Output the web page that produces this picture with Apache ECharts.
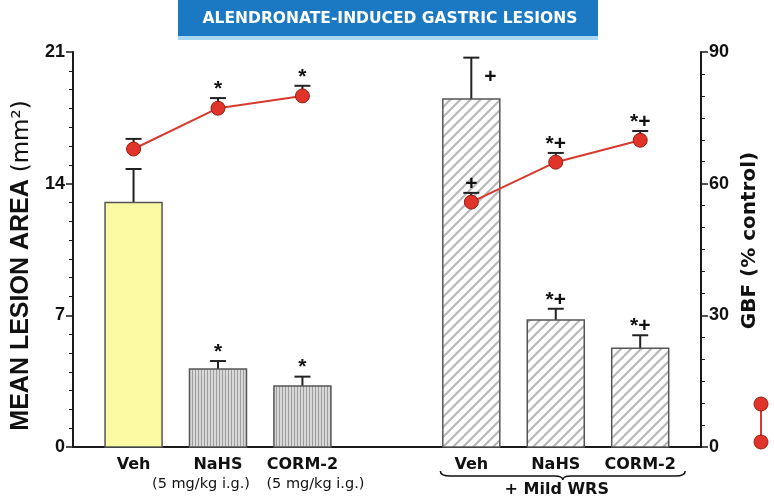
<!DOCTYPE html>
<html><head><meta charset="utf-8">
<script src="https://cdn.jsdelivr.net/npm/echarts@6/dist/echarts.min.js"></script>
<style>html,body{margin:0;padding:0;background:#fff}#c{width:774px;height:498px}</style>
</head><body><div id="c"></div><script>
// ---- data ----
const categories = ['Veh', 'NaHS', 'CORM-2', 'Veh', 'NaHS', 'CORM-2'];
const subLabels = ['', '(5 mg/kg i.g.)', '(5 mg/kg i.g.)', '', '', ''];
const positions = [1, 2, 3, 5, 6, 7];
const lesionArea = [13.0, 4.15, 3.24, 18.5, 6.75, 5.25];
const lesionErr = [1.78, 0.42, 0.50, 2.2, 0.60, 0.69];
const gbf = [67.9, 77.2, 80.0, 55.8, 64.9, 69.9];
const gbfErr = [2.3, 2.3, 2.3, 2.1, 2.1, 2.1];
const barMarks = ['', '*', '*', '+', '*+', '*+'];
const gbfMarks = ['', '*', '*', '+', '*+', '*+'];
const leftTicks = [0, 7, 14, 21];
const rightTicks = [0, 30, 60, 90];
const groupLabel = '+ Mild WRS';
const titleText = 'ALENDRONATE-INDUCED GASTRIC LESIONS';

// ---- styles ----
const BAR_W = 0.675;
function makePattern(kind) {
  const c = document.createElement('canvas');
  const g = c.getContext('2d');
  if (kind === 'v') {
    c.width = 3; c.height = 4;
    g.fillStyle = '#d8d8d8'; g.fillRect(0, 0, 3, 4);
    g.fillStyle = '#9e9e9e'; g.fillRect(0, 0, 1, 4);
  } else {
    c.width = 10; c.height = 10;
    g.fillStyle = '#ffffff'; g.fillRect(0, 0, 10, 10);
    g.strokeStyle = '#b8b8b8'; g.lineWidth = 2.2;
    g.beginPath();
    g.moveTo(-2, 12); g.lineTo(12, -2);
    g.moveTo(-2, 2); g.lineTo(2, -2);
    g.moveTo(8, 12); g.lineTo(12, 8);
    g.stroke();
  }
  return { type: 'pattern', image: c, repeat: 'repeat' };
}
const vPat = makePattern('v');
const hPat = makePattern('h');
function barFill(i) { return i === 0 ? '#fbfaa2' : (i < 3 ? vPat : hPat); }

const chart = echarts.init(document.getElementById('c'));
const markFont = 'bold 21px "Liberation Sans", Arial, sans-serif';
const DV = '"DejaVu Sans", sans-serif';
const LS = '"Liberation Sans", Arial, sans-serif';

function lineData(from, to) {
  const d = [];
  for (let i = from; i < to; i++) d.push([positions[i], gbf[i]]);
  return d;
}
const lineSeriesBase = {
  type: 'line', xAxisIndex: 0, yAxisIndex: 1, z: 5,
  symbol: 'circle', symbolSize: 14,
  itemStyle: { color: '#e0342a', borderColor: '#9a1c12', borderWidth: 1 },
  lineStyle: { color: '#d8392c', width: 2 },
  emphasis: { disabled: true }, silent: true
};

const option = {
  animation: false,
  grid: { left: 73, right: 73, top: 52, bottom: 51 },
  graphic: [
    { type: 'rect', shape: { x: 178, y: 0, width: 420, height: 36 }, style: { fill: '#1b78c2' } },
    { type: 'rect', shape: { x: 178, y: 36, width: 420, height: 4 }, style: { fill: '#a8d8f2' } },
    { type: 'text', x: 390, y: 19, style: { text: titleText, fill: '#ffffff', font: 'bold 15.5px "DejaVu Sans", sans-serif', align: 'center', verticalAlign: 'middle' } },
    { type: 'line', shape: { x1: 761, y1: 404, x2: 761, y2: 442 }, style: { stroke: '#d8392c', lineWidth: 2 } },
    { type: 'circle', shape: { cx: 761, cy: 404, r: 7 }, style: { fill: '#e0342a', stroke: '#9a1c12', lineWidth: 1 } },
    { type: 'circle', shape: { cx: 761, cy: 442, r: 7 }, style: { fill: '#e0342a', stroke: '#9a1c12', lineWidth: 1 } }
  ],
  xAxis: {
    type: 'value', min: 0.283, max: 7.72,
    axisLine: { show: true, lineStyle: { color: '#1a1a1a', width: 2 } },
    axisTick: { show: false },
    splitLine: { show: false },
    axisLabel: {
      customValues: positions,
      margin: 8,
      formatter: function (v) {
        const i = positions.indexOf(v);
        if (i < 0) return '';
        let s = '{m|' + categories[i] + '}';
        if (subLabels[i]) s += '\n{' + (i === 1 ? 's1' : 's2') + '|' + subLabels[i] + '}';
        return s;
      },
      rich: {
        m: { fontFamily: DV, fontWeight: 'bold', fontSize: 16, color: '#111', lineHeight: 20 },
        s1: { fontFamily: DV, fontSize: 14.5, color: '#111', lineHeight: 18, padding: [0, 34, 0, 0] },
        s2: { fontFamily: DV, fontSize: 14.5, color: '#111', lineHeight: 18, padding: [0, 0, 0, 26] }
      }
    }
  },
  yAxis: [
    {
      type: 'value', min: leftTicks[0], max: leftTicks[leftTicks.length - 1], interval: 7, position: 'left',
      axisLine: { show: true, lineStyle: { color: '#1a1a1a', width: 2 } },
      axisTick: { show: true, length: 7, lineStyle: { color: '#1a1a1a', width: 1.5 } },
      minorTick: { show: true, splitNumber: 7, length: 4, lineStyle: { color: '#1a1a1a', width: 1 } },
      splitLine: { show: false },
      axisLabel: { margin: 8, color: '#111', fontFamily: LS, fontWeight: 'bold', fontSize: 18 },
      name: '{b|MEAN LESION AREA }{p|(mm²)}',
      nameLocation: 'middle', nameRotate: 90, nameGap: 38,
      nameTextStyle: {
        padding: [0, 32, 0, 0],
        rich: {
          b: { fontFamily: LS, fontWeight: 'bold', fontSize: 25, color: '#111' },
          p: { fontFamily: DV, fontSize: 23, color: '#111' }
        }
      }
    },
    {
      type: 'value', min: rightTicks[0], max: rightTicks[rightTicks.length - 1], interval: 30, position: 'right',
      axisLine: { show: true, lineStyle: { color: '#1a1a1a', width: 2 } },
      axisTick: { show: true, length: 7, lineStyle: { color: '#1a1a1a', width: 1.5 } },
      minorTick: { show: true, splitNumber: 6, length: 4, lineStyle: { color: '#1a1a1a', width: 1 } },
      splitLine: { show: false },
      axisLabel: { margin: 8, color: '#111', fontFamily: LS, fontWeight: 'bold', fontSize: 18 },
      name: 'GBF (% control)',
      nameLocation: 'middle', nameRotate: 90, nameGap: 34,
      nameTextStyle: { padding: [0, 0, 0, 18], color: '#111', fontFamily: DV, fontWeight: 'bold', fontSize: 20 }
    }
  ],
  series: [
    {
      type: 'custom', xAxisIndex: 0, yAxisIndex: 0, z: 2, silent: true, clip: false,
      data: positions.map((p, i) => [p, lesionArea[i], lesionErr[i], i]),
      renderItem: function (params, api) {
        const x = api.value(0), y = api.value(1), e = api.value(2), i = api.value(3);
        const base = api.coord([x, 0]);
        const top = api.coord([x, y]);
        const et = api.coord([x, y + e]);
        const w = api.size([BAR_W, 0])[0];
        const children = [
          { type: 'line', shape: { x1: top[0], y1: top[1], x2: et[0], y2: et[1] }, style: { stroke: '#222', lineWidth: 2 } },
          { type: 'line', shape: { x1: et[0] - 8, y1: et[1], x2: et[0] + 8, y2: et[1] }, style: { stroke: '#222', lineWidth: 2 } },
          { type: 'rect', shape: { x: base[0] - w / 2, y: top[1], width: w, height: base[1] - top[1] }, style: { fill: barFill(i), stroke: '#555', lineWidth: 1.5 } }
        ];
        if (barMarks[i]) {
          const beside = (i === 3);
          children.push({
            type: 'text',
            x: beside ? et[0] + 19 : et[0],
            y: beside ? et[1] + 20 : et[1] - 9,
            style: { text: barMarks[i], font: markFont, fill: '#111', align: 'center', verticalAlign: 'middle' }
          });
        }
        return { type: 'group', children: children };
      }
    },
    {
      type: 'custom', xAxisIndex: 0, yAxisIndex: 1, z: 4, silent: true, clip: false,
      data: positions.map((p, i) => [p, gbf[i], gbfErr[i], i]),
      renderItem: function (params, api) {
        const x = api.value(0), y = api.value(1), e = api.value(2), i = api.value(3);
        const pt = api.coord([x, y]);
        const et = api.coord([x, y + e]);
        const children = [
          { type: 'line', shape: { x1: pt[0], y1: pt[1], x2: et[0], y2: et[1] }, style: { stroke: '#222', lineWidth: 2 } },
          { type: 'line', shape: { x1: et[0] - 8, y1: et[1], x2: et[0] + 8, y2: et[1] }, style: { stroke: '#222', lineWidth: 2 } }
        ];
        if (gbfMarks[i]) {
          children.push({ type: 'text', x: et[0], y: et[1] - 9, style: { text: gbfMarks[i], font: markFont, fill: '#111', align: 'center', verticalAlign: 'middle' } });
        }
        return { type: 'group', children: children };
      }
    },
    Object.assign({}, lineSeriesBase, { data: lineData(0, 3) }),
    Object.assign({}, lineSeriesBase, { data: lineData(3, 6) }),
    {
      type: 'custom', xAxisIndex: 0, yAxisIndex: 0, z: 2, silent: true, clip: false,
      data: [[positions[3], positions[5], 0]],
      renderItem: function (params, api) {
        const a = api.coord([api.value(0), api.value(2)]);
        const b = api.coord([api.value(1), api.value(2)]);
        const x0 = a[0] - 31, x1 = b[0] + 45, xc = (x0 + x1) / 2;
        const y0 = a[1] + 24;
        const path = 'M' + x0 + ' ' + y0 + ' Q' + x0 + ' ' + (y0 + 5) + ' ' + (x0 + 10) + ' ' + (y0 + 5) +
          ' L' + (xc - 8) + ' ' + (y0 + 5) + ' Q' + xc + ' ' + (y0 + 5) + ' ' + xc + ' ' + (y0 + 9) +
          ' Q' + xc + ' ' + (y0 + 5) + ' ' + (xc + 8) + ' ' + (y0 + 5) +
          ' L' + (x1 - 10) + ' ' + (y0 + 5) + ' Q' + x1 + ' ' + (y0 + 5) + ' ' + x1 + ' ' + y0;
        return {
          type: 'group', children: [
            { type: 'path', shape: { pathData: path }, style: { stroke: '#111', fill: null, lineWidth: 1.5 } },
            { type: 'text', x: xc - 6, y: y0 + 19, style: { text: groupLabel, font: 'bold 16px "DejaVu Sans", sans-serif', fill: '#111', align: 'center', verticalAlign: 'middle' } }
          ]
        };
      }
    }
  ]
};
chart.setOption(option);
</script></body></html>
